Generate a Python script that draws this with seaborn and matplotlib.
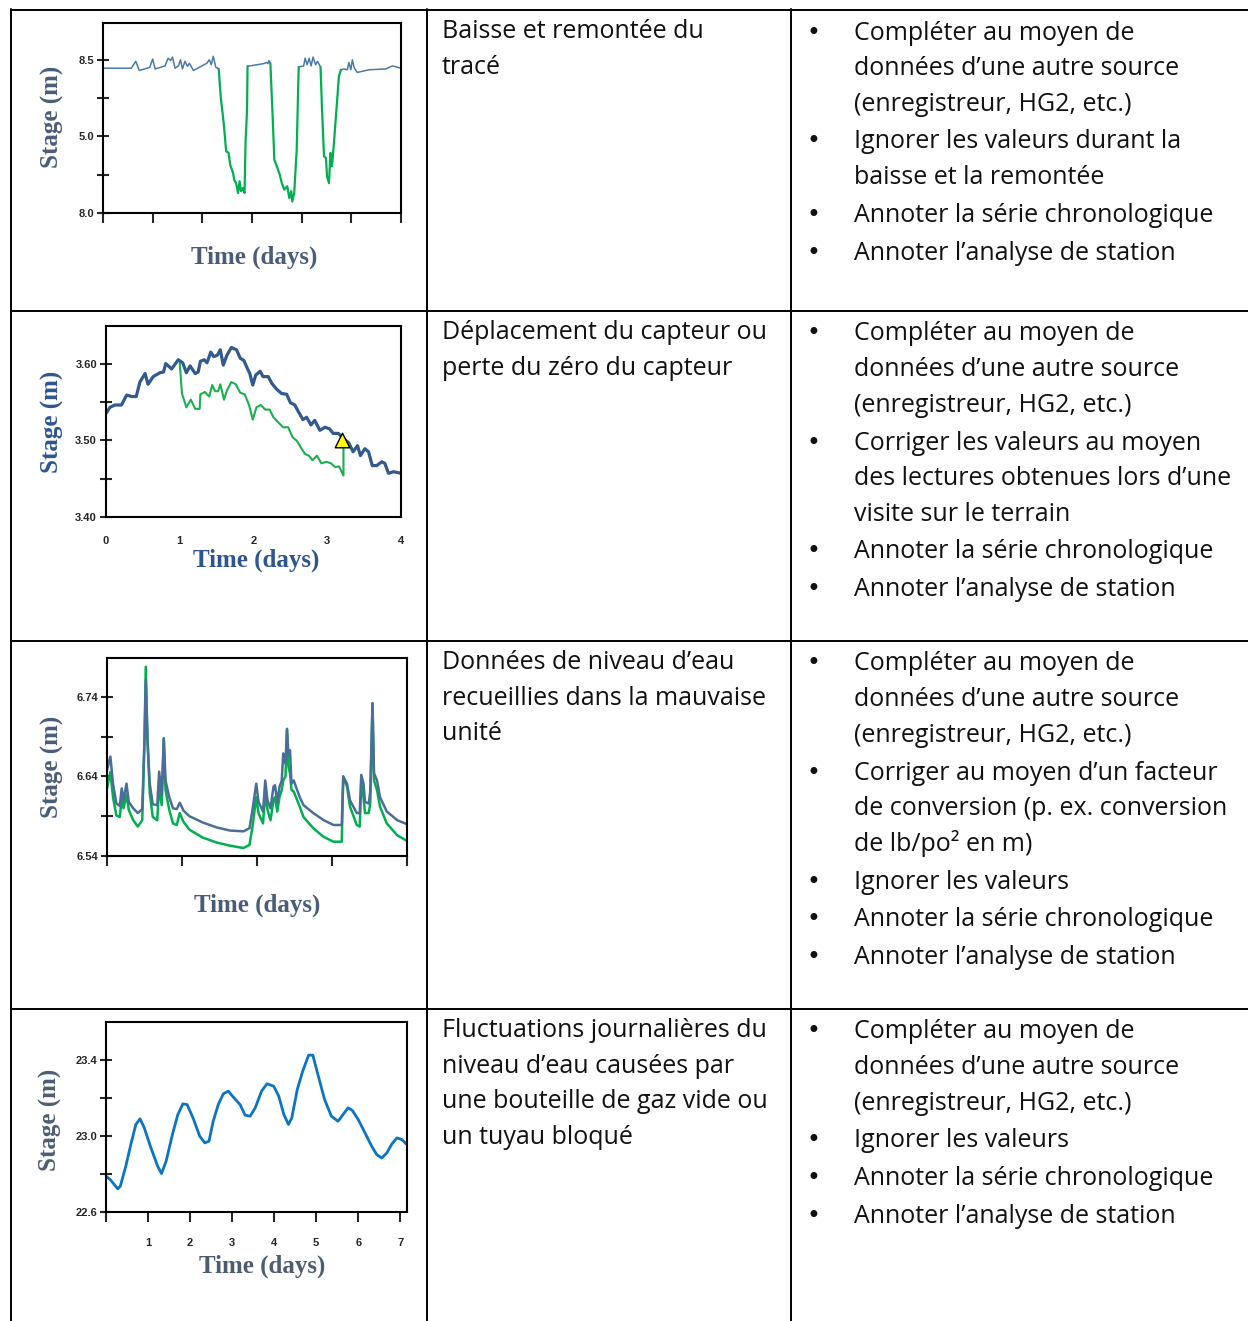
import matplotlib.pyplot as plt
import seaborn as sns
from matplotlib.lines import Line2D

W, H = 1248, 1321

# ---- chart 1 : baisse et remontee (y in tick units, labels as printed) ----
c1_blue_t = [
    [0, 0.57, 0.66, 0.73, 0.94, 1.0, 1.05, 1.25, 1.31, 1.36, 1.40, 1.45, 1.52, 1.56, 1.6,
     1.65, 1.70, 1.74, 1.82, 2.09, 2.14, 2.18, 2.22, 2.27, 2.33],
    [2.91, 3.24, 3.29, 3.32, 3.34, 3.37],
    [3.94, 4.04, 4.07, 4.11, 4.15, 4.19, 4.23, 4.28, 4.32, 4.38],
    [4.79, 4.85, 4.92, 4.95, 4.99, 5.02, 5.06, 5.12, 5.36, 5.69, 5.83, 6.0],
]
c1_blue_v = [
    [3.78, 3.78, 3.96, 3.72, 3.8, 4.02, 3.76, 3.84, 4.04, 3.98, 4.07, 3.78, 3.84, 4.0, 3.76,
     3.96, 3.83, 3.91, 3.72, 3.91, 4.0, 3.87, 4.09, 3.81, 3.76],
    [3.83, 3.9, 3.93, 3.9, 3.98, 3.91],
    [3.81, 3.84, 4.04, 3.87, 4.04, 3.84, 4.07, 3.87, 3.96, 3.81],
    [3.74, 3.76, 3.74, 3.93, 3.74, 4.0, 3.78, 3.67, 3.74, 3.76, 3.84, 3.78],
]
c1_green_t = [
    [2.33, 2.37, 2.43, 2.48, 2.53, 2.56, 2.62, 2.64, 2.68, 2.72, 2.75, 2.78, 2.82, 2.85,
     2.87, 2.90, 2.91],
    [3.37, 3.41, 3.45, 3.5, 3.56, 3.6, 3.65, 3.71, 3.75, 3.79, 3.81, 3.85, 3.9, 3.94],
    [4.38, 4.41, 4.45, 4.49, 4.51, 4.55, 4.58, 4.61, 4.65, 4.7, 4.75, 4.79],
]
c1_green_v = [
    [3.76, 3.04, 2.35, 1.61, 1.57, 1.26, 1.04, 0.87, 0.78, 0.52, 0.83, 0.57, 0.65, 0.52,
     1.83, 2.70, 3.83],
    [3.91, 2.7, 1.39, 1.22, 1.0, 0.78, 0.61, 0.7, 0.39, 0.57, 0.3, 0.52, 1.65, 3.81],
    [3.81, 2.7, 1.48, 1.43, 0.96, 0.78, 1.57, 1.22, 1.83, 2.7, 3.57, 3.74],
]
c1_yticks = [0, 1, 2, 3, 4]
c1_ylabels = ["8.0", "", "5.0", "", "8.5"]

# ---- chart 2 : deplacement du capteur ----
c2_blue_t = [0, 0.054, 0.12, 0.21, 0.28, 0.35, 0.41, 0.46, 0.53, 0.57, 0.64, 0.73, 0.78, 0.81,
             0.89, 0.98, 1.04, 1.09, 1.14, 1.21, 1.25, 1.28, 1.33, 1.37, 1.42, 1.46, 1.51,
             1.55, 1.59, 1.64, 1.70, 1.77, 1.82, 1.87, 1.92, 1.95, 1.99, 2.03, 2.09, 2.13,
             2.20, 2.25, 2.31, 2.38, 2.45, 2.50, 2.56, 2.61, 2.67, 2.72, 2.78, 2.83, 2.90,
             2.97, 3.03, 3.08, 3.15, 3.22, 3.29, 3.35, 3.41, 3.45, 3.51, 3.56, 3.61, 3.67,
             3.74, 3.78, 3.83, 3.90, 4.0]
c2_blue_v = [3.535, 3.543, 3.546, 3.546, 3.559, 3.557, 3.557, 3.576, 3.587, 3.573, 3.583,
             3.588, 3.589, 3.600, 3.593, 3.605, 3.601, 3.588, 3.597, 3.587, 3.589, 3.603,
             3.605, 3.601, 3.615, 3.609, 3.611, 3.618, 3.598, 3.611, 3.621, 3.618, 3.607,
             3.604, 3.593, 3.587, 3.572, 3.585, 3.590, 3.583, 3.583, 3.574, 3.567, 3.561,
             3.560, 3.549, 3.546, 3.537, 3.527, 3.530, 3.520, 3.526, 3.513, 3.517, 3.515,
             3.509, 3.509, 3.502, 3.497, 3.485, 3.493, 3.480, 3.489, 3.485, 3.467, 3.467,
             3.472, 3.470, 3.457, 3.459, 3.457]
c2_green_t = [1.0, 1.03, 1.09, 1.15, 1.21, 1.27, 1.28, 1.34, 1.40, 1.44, 1.48, 1.52, 1.55,
              1.60, 1.64, 1.70, 1.76, 1.82, 1.88, 1.94, 1.99, 2.04, 2.10, 2.16, 2.22, 2.27,
              2.34, 2.40, 2.47, 2.53, 2.59, 2.64, 2.70, 2.75, 2.80, 2.86, 2.92, 2.99, 3.05,
              3.11, 3.16, 3.22, 3.22]
c2_green_v = [3.601, 3.561, 3.543, 3.553, 3.541, 3.541, 3.560, 3.563, 3.557, 3.572, 3.564,
              3.564, 3.573, 3.553, 3.565, 3.576, 3.573, 3.562, 3.560, 3.546, 3.527, 3.543,
              3.546, 3.540, 3.540, 3.530, 3.523, 3.517, 3.517, 3.504, 3.499, 3.491, 3.482,
              3.480, 3.474, 3.480, 3.470, 3.472, 3.470, 3.465, 3.466, 3.454, 3.500]
c2_visit_t = [3.20]
c2_visit_v = [3.501]

# ---- chart 3 : mauvaise unite ----
c3_t = [0, 0.045, 0.08, 0.125, 0.17, 0.196, 0.22, 0.26, 0.29, 0.35, 0.41, 0.47, 0.50, 0.517,
        0.54, 0.57, 0.61, 0.67, 0.695, 0.73, 0.757, 0.78, 0.83, 0.88, 0.93, 0.97, 1.02,
        1.10, 1.28, 1.46, 1.64, 1.82, 1.90, 1.94, 1.99, 2.02, 2.08, 2.11, 2.14, 2.18, 2.22,
        2.24, 2.27, 2.30, 2.33, 2.35, 2.38, 2.40, 2.42, 2.44, 2.46, 2.49, 2.52, 2.57, 2.62,
        2.75, 2.89, 3.02, 3.13, 3.15, 3.20, 3.24, 3.33, 3.37, 3.39, 3.42, 3.44, 3.49, 3.51,
        3.54, 3.56, 3.60, 3.64, 3.73, 3.87, 4.0]
c3_blue_v = [6.648, 6.665, 6.631, 6.606, 6.603, 6.625, 6.610, 6.631, 6.608, 6.600, 6.594,
             6.599, 6.686, 6.761, 6.686, 6.631, 6.605, 6.604, 6.646, 6.617, 6.688, 6.635,
             6.614, 6.600, 6.599, 6.607, 6.597, 6.590, 6.582, 6.576, 6.572, 6.571, 6.575,
             6.598, 6.631, 6.608, 6.596, 6.635, 6.610, 6.600, 6.627, 6.629, 6.608, 6.627,
             6.635, 6.669, 6.656, 6.699, 6.667, 6.673, 6.631, 6.635, 6.627, 6.614, 6.604,
             6.594, 6.585, 6.579, 6.579, 6.640, 6.631, 6.610, 6.594, 6.594, 6.642, 6.631,
             6.608, 6.606, 6.621, 6.732, 6.644, 6.635, 6.614, 6.596, 6.585, 6.580]
c3_green_v = [6.625, 6.646, 6.614, 6.591, 6.589, 6.612, 6.600, 6.617, 6.598, 6.585, 6.577,
              6.585, 6.686, 6.778, 6.686, 6.619, 6.589, 6.585, 6.627, 6.604, 6.688, 6.623,
              6.598, 6.581, 6.579, 6.594, 6.583, 6.573, 6.563, 6.557, 6.553, 6.550, 6.554,
              6.577, 6.614, 6.594, 6.581, 6.619, 6.598, 6.585, 6.610, 6.614, 6.596, 6.614,
              6.623, 6.635, 6.640, 6.700, 6.652, 6.644, 6.623, 6.621, 6.614, 6.602, 6.589,
              6.575, 6.564, 6.558, 6.558, 6.640, 6.627, 6.602, 6.579, 6.577, 6.631, 6.614,
              6.594, 6.594, 6.606, 6.732, 6.635, 6.623, 6.602, 6.581, 6.566, 6.559]

# ---- chart 4 : fluctuations journalieres ----
c4_t = [0, 0.1, 0.2, 0.28, 0.34, 0.47, 0.59, 0.71, 0.81, 0.91, 1.07, 1.23, 1.32, 1.43, 1.59,
        1.71, 1.83, 1.93, 2.07, 2.23, 2.35, 2.45, 2.55, 2.67, 2.79, 2.91, 3.03, 3.19, 3.31,
        3.43, 3.55, 3.70, 3.83, 3.99, 4.11, 4.23, 4.34, 4.42, 4.55, 4.68, 4.82, 4.92, 5.04,
        5.2, 5.36, 5.52, 5.64, 5.76, 5.86, 6.0, 6.16, 6.32, 6.44, 6.56, 6.68, 6.80, 6.92,
        7.04, 7.14]
c4_v = [22.789, 22.771, 22.744, 22.722, 22.736, 22.841, 22.956, 23.062, 23.092, 23.044,
        22.938, 22.841, 22.803, 22.868, 23.018, 23.115, 23.171, 23.167, 23.097, 23.0,
        22.965, 22.974, 23.079, 23.167, 23.224, 23.238, 23.206, 23.167, 23.111, 23.106,
        23.150, 23.238, 23.277, 23.264, 23.211, 23.115, 23.062, 23.097, 23.247, 23.344,
        23.428, 23.428, 23.326, 23.194, 23.106, 23.079, 23.115, 23.150, 23.136, 23.088,
        23.018, 22.947, 22.903, 22.885, 22.912, 22.959, 22.991, 22.982, 22.959]

# ---- table text ----
col2_text = [
    ["Baisse et remontée du", "tracé"],
    ["Déplacement du capteur ou", "perte du zéro du capteur"],
    ["Données de niveau d’eau", "recueillies dans la mauvaise", "unité"],
    ["Fluctuations journalières du", "niveau d’eau causées par",
     "une bouteille de gaz vide ou", "un tuyau bloqué"],
]
completer = ["Compléter au moyen de", "données d’une autre source", "(enregistreur, HG2, etc.)"]
serie = ["Annoter la série chronologique"]
station = ["Annoter l’analyse de station"]
col3_items = [
    [completer, ["Ignorer les valeurs durant la", "baisse et la remontée"], serie, station],
    [completer, ["Corriger les valeurs au moyen", "des lectures obtenues lors d’une",
                 "visite sur le terrain"], serie, station],
    [completer, ["Corriger au moyen d’un facteur", "de conversion (p. ex. conversion",
                 "de lb/po² en m)"], ["Ignorer les valeurs"], serie, station],
    [completer, ["Ignorer les valeurs"], serie, station],
]

sns.set_style("white")
plt.rcParams["font.family"] = ["Liberation Sans", "DejaVu Sans"]

fig = plt.figure(figsize=(W / 100, H / 100), dpi=100)

# table grid
row_tops = [10, 311, 641, 1009]
for y in row_tops:
    fig.add_artist(Line2D([11 / W, 1], [1 - y / H, 1 - y / H], color="black", lw=1.4))
for x in [11, 427, 791]:
    fig.add_artist(Line2D([x / W, x / W], [1 - 9 / H, 0], color="black", lw=1.4))

text_kw = dict(family=["Open Sans", "DejaVu Sans"], fontsize=18, color="#111111",
               va="baseline")
bullet_kw = dict(family="DejaVu Sans", fontsize=17, color="#111111", va="baseline",
                 ha="center")
step = 35.6
for top, lines in zip(row_tops, col2_text):
    for i, line in enumerate(lines):
        fig.text(442 / W, 1 - (top + 28 + i * step) / H, line, **text_kw)
for top, items in zip(row_tops, col3_items):
    y = top + 29.5
    for item in items:
        fig.text(813 / W, 1 - y / H, "•", **bullet_kw)
        for line in item:
            fig.text(854 / W, 1 - y / H, line, **text_kw)
            y += step
        y += 2.2


def make_axes(l, t, r, b):
    return fig.add_axes([l / W, 1 - b / H, (r - l) / W, (b - t) / H])


def style(ax, xlabel_xy, ylabel_xy, box, label_color):
    l, t, r, b = box
    for s in ax.spines.values():
        s.set_visible(True)
        s.set_linewidth(1.5)
        s.set_color("black")
    ax.tick_params(axis="y", left=True, direction="inout", length=9, width=1.5,
                   labelsize=8, pad=2)
    ax.tick_params(axis="x", bottom=True, direction="out", length=7, width=1.5, labelsize=8)
    for lbl in ax.get_xticklabels() + ax.get_yticklabels():
        lbl.set_fontweight("bold")
    lab_kw = dict(family=["Liberation Serif", "DejaVu Serif"], fontweight="bold",
                  fontsize=18, color=label_color)
    ax.set_xlabel("Time (days)", **lab_kw)
    ax.set_ylabel("Stage (m)", **lab_kw)
    ax.xaxis.label.set_verticalalignment("center")
    ax.yaxis.label.set_verticalalignment("center")
    ax.xaxis.set_label_coords((xlabel_xy[0] - l) / (r - l), (b - xlabel_xy[1]) / (b - t))
    ax.yaxis.set_label_coords((ylabel_xy[0] - l) / (r - l), (b - ylabel_xy[1]) / (b - t))


green = "#00b050"

# chart 1
box1 = (103, 23, 401, 213)
ax1 = make_axes(*box1)
for tt, vv in zip(c1_green_t, c1_green_v):
    sns.lineplot(x=tt, y=vv, ax=ax1, color=green, lw=1.6, sort=False, estimator=None)
for tt, vv in zip(c1_blue_t, c1_blue_v):
    sns.lineplot(x=tt, y=vv, ax=ax1, color="#4a79a9", lw=1.1, sort=False, estimator=None)
ax1.set_xlim(0, 6)
ax1.set_ylim(0, 4.96)
ax1.set_xticks(range(7))
ax1.set_xticklabels([])
ax1.set_yticks(c1_yticks)
ax1.set_yticklabels(c1_ylabels)
style(ax1, (254, 257), (52, 117), box1, "#4a5d78")

# chart 2
box2 = (106, 326, 401, 517)
ax2 = make_axes(*box2)
sns.lineplot(x=c2_green_t, y=c2_green_v, ax=ax2, color="#1ab04f", lw=1.5, sort=False,
             estimator=None)
sns.lineplot(x=c2_blue_t, y=c2_blue_v, ax=ax2, color="#325a8c", lw=2.3, sort=False,
             estimator=None)
sns.scatterplot(x=c2_visit_t, y=c2_visit_v, ax=ax2, marker="^", s=110, color="#ffff00",
                edgecolor="black", linewidth=1.0, zorder=5)
ax2.set_xlim(0, 4)
ax2.set_ylim(3.40, 3.649)
ax2.set_xticks(range(5))
ax2.set_yticks([3.40, 3.45, 3.50, 3.55, 3.60])
ax2.set_yticklabels(["3.40", "", "3.50", "", "3.60"])
style(ax2, (256, 560), (52, 422), box2, "#2e5590")
ax2.tick_params(axis="x", length=0, pad=14)

# chart 3
box3 = (107, 658, 407, 856)
ax3 = make_axes(*box3)
sns.lineplot(x=c3_t, y=c3_green_v, ax=ax3, color=green, lw=1.8, sort=False, estimator=None)
sns.lineplot(x=c3_t, y=c3_blue_v, ax=ax3, color="#4a6e98", lw=1.8, sort=False,
             estimator=None)
ax3.set_xlim(0, 4)
ax3.set_ylim(6.54, 6.789)
ax3.set_xticks(range(5))
ax3.set_xticklabels([])
ax3.set_yticks([6.54, 6.59, 6.64, 6.69, 6.74])
ax3.set_yticklabels(["6.54", "", "6.64", "", "6.74"])
style(ax3, (257, 905), (52, 767), box3, "#4a5d78")

# chart 4
box4 = (106, 1022, 407, 1212)
ax4 = make_axes(*box4)
sns.lineplot(x=c4_t, y=c4_v, ax=ax4, color="#0b74c4", lw=2.0, sort=False, estimator=None)
ax4.set_xlim(0, 7.16)
ax4.set_ylim(22.6, 23.603)
ax4.set_xticks(range(8))
ax4.set_xticklabels(["", "1", "2", "3", "4", "5", "6", "7"])
ax4.set_yticks([22.6, 22.8, 23.0, 23.2, 23.4])
ax4.set_yticklabels(["22.6", "", "23.0", "", "23.4"])
style(ax4, (262, 1266), (50, 1120), box4, "#4e5c72")
ax4.tick_params(axis="x", pad=12)

fig.savefig("out.png", dpi=100)
